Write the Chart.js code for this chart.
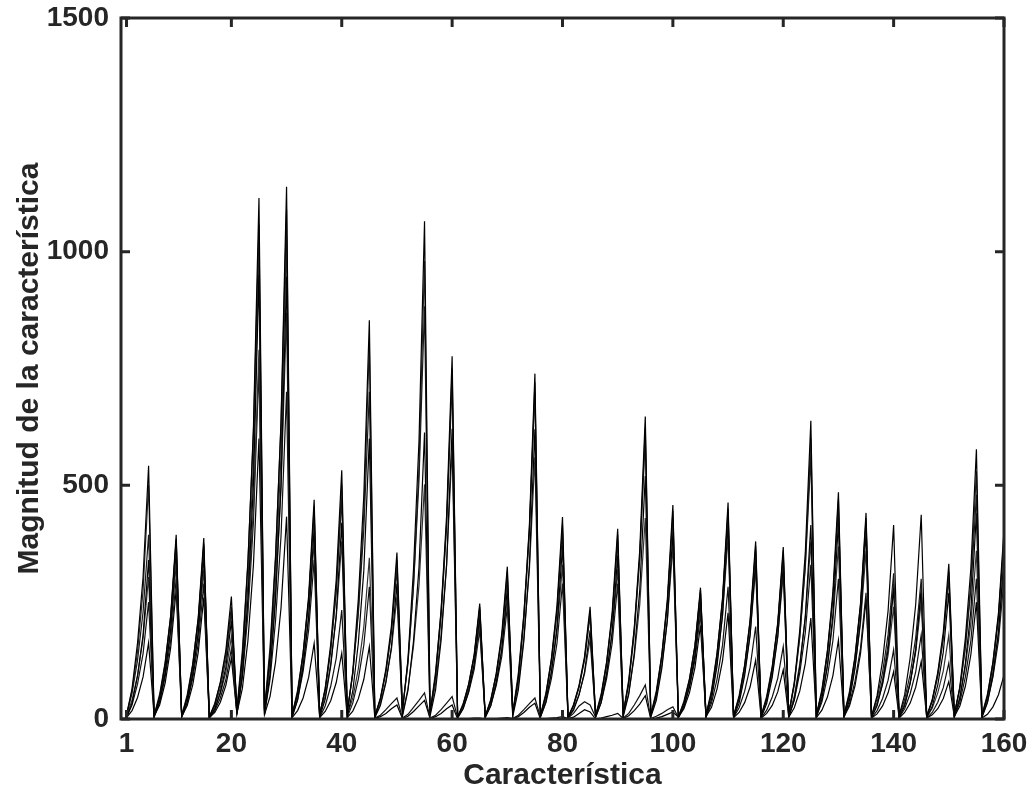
<!DOCTYPE html>
<html>
<head>
<meta charset="utf-8">
<script src="https://cdn.jsdelivr.net/npm/chart.js@4/dist/chart.umd.min.js"></script>
<style>
  html, body { margin: 0; padding: 0; background: #fff; }
  #wrap { width: 1028px; height: 800px; }
</style>
</head>
<body>
<div id="wrap"><canvas id="featChart" width="1028" height="800"></canvas></div>
<script>
// indice de la caracteristica (1..160)
const caracteristica = Array.from({ length: 160 }, (_, i) => i + 1);
const xTicks = [1, 20, 40, 60, 80, 100, 120, 140, 160];
const yTicks = [0, 500, 1000, 1500];

// magnitudes, una serie por muestra
const muestra1 = [
  8, 65, 163, 304, 542, 6, 47, 118, 221, 394, 6, 46, 116, 217, 387, 4, 31, 79, 147, 262,
  17, 134, 335, 624, 1115, 17, 137, 342, 638, 1139, 7, 56, 141, 263, 469, 8, 64, 160, 298, 532,
  13, 102, 256, 478, 853, 5, 43, 107, 199, 356, 16, 128, 320, 596, 1065, 12, 93, 233, 435, 776,
  4, 30, 74, 138, 247, 5, 39, 98, 183, 326, 11, 89, 222, 414, 739, 6, 52, 130, 242, 432,
  4, 29, 72, 134, 240, 6, 49, 122, 228, 407, 10, 78, 194, 362, 647, 7, 55, 137, 256, 458,
  4, 34, 84, 157, 281, 7, 56, 139, 259, 463, 6, 46, 114, 213, 380, 6, 44, 110, 206, 368,
  10, 77, 191, 357, 638, 7, 58, 146, 272, 485, 7, 53, 132, 247, 441, 6, 50, 125, 232, 415,
  7, 52, 131, 245, 437, 5, 40, 100, 186, 332, 9, 69, 173, 323, 577, 6, 49, 122, 227, 405
];
const muestra2 = [
  8, 55, 126, 229, 394, 8, 53, 122, 220, 380, 7, 52, 118, 215, 370, 5, 34, 77, 139, 240,
  21, 148, 338, 613, 1057, 22, 153, 349, 632, 1090, 9, 62, 141, 255, 440, 9, 66, 150, 273, 470,
  14, 98, 224, 406, 700, 6, 45, 102, 186, 320, 18, 124, 283, 512, 883, 14, 101, 230, 418, 720,
  5, 33, 75, 136, 235, 6, 42, 96, 174, 300, 14, 98, 224, 406, 700, 8, 56, 128, 232, 400,
  4, 31, 70, 128, 220, 8, 53, 122, 220, 380, 12, 84, 192, 348, 600, 9, 60, 138, 249, 430,
  5, 38, 86, 157, 270, 9, 62, 141, 255, 440, 7, 50, 115, 209, 360, 7, 49, 112, 203, 350,
  11, 78, 179, 325, 560, 9, 63, 144, 261, 450, 8, 59, 134, 244, 420, 6, 44, 100, 181, 312,
  6, 42, 96, 174, 300, 6, 42, 96, 174, 300, 10, 67, 154, 278, 480, 8, 53, 122, 220, 380
];
const muestra3 = [
  3, 34, 92, 180, 340, 4, 36, 97, 191, 360, 4, 35, 95, 186, 350, 2, 21, 57, 111, 210,
  10, 95, 257, 504, 950, 9, 95, 256, 502, 947, 4, 41, 111, 217, 410, 4, 42, 113, 223, 420,
  6, 60, 162, 318, 600, 3, 29, 78, 154, 290, 6, 61, 166, 325, 613, 6, 62, 168, 329, 621,
  2, 22, 59, 117, 220, 3, 28, 76, 148, 280, 6, 62, 167, 329, 620, 4, 37, 100, 196, 370,
  2, 19, 51, 101, 190, 4, 35, 95, 186, 350, 5, 52, 140, 276, 520, 4, 40, 108, 212, 400,
  3, 26, 69, 135, 255, 4, 42, 113, 223, 420, 3, 34, 92, 180, 340, 3, 33, 89, 175, 330,
  4, 42, 112, 220, 415, 4, 42, 113, 223, 420, 4, 40, 108, 212, 400, 3, 28, 76, 148, 280,
  3, 28, 76, 148, 280, 3, 27, 73, 143, 270, 4, 44, 119, 233, 440, 3, 35, 94, 184, 347
];
const muestra4 = [
  6, 40, 94, 173, 304, 7, 43, 102, 188, 330, 6, 42, 99, 182, 320, 4, 23, 55, 100, 176,
  16, 103, 245, 450, 790, 17, 113, 269, 495, 869, 8, 49, 118, 217, 380, 8, 49, 118, 217, 380,
  7, 45, 107, 197, 345, 5, 34, 81, 149, 262, 10, 65, 156, 286, 502, 12, 75, 180, 331, 580,
  4, 27, 64, 117, 205, 5, 34, 81, 148, 260, 11, 73, 174, 319, 560, 7, 43, 102, 188, 330,
  3, 22, 53, 97, 170, 6, 42, 99, 182, 320, 9, 56, 133, 245, 430, 7, 48, 115, 211, 370,
  5, 31, 74, 137, 240, 8, 51, 121, 222, 390, 6, 42, 99, 182, 320, 6, 40, 96, 177, 310,
  8, 49, 118, 217, 380, 7, 48, 114, 210, 369, 7, 47, 112, 205, 360, 5, 31, 74, 137, 240,
  5, 33, 78, 143, 251, 4, 23, 56, 103, 180, 7, 47, 112, 205, 360, 7, 42, 101, 186, 326
];
const muestra5 = [
  4, 30, 75, 140, 250, 5, 36, 90, 168, 300, 4, 35, 87, 162, 290, 2, 18, 45, 84, 150,
  11, 90, 226, 422, 754, 11, 84, 210, 392, 700, 5, 41, 102, 190, 340, 3, 28, 70, 130, 233,
  4, 34, 85, 158, 283, 2, 8, 20, 33, 45, 2, 10, 25, 40, 56, 2, 8, 20, 34, 48,
  3, 23, 57, 106, 190, 4, 29, 72, 134, 240, 1, 8, 20, 33, 45, 4, 35, 87, 162, 290,
  2, 12, 28, 37, 30, 4, 35, 87, 162, 290, 2, 12, 30, 50, 73, 1, 6, 12, 20, 26,
  3, 27, 68, 126, 225, 4, 34, 85, 158, 283, 3, 24, 59, 111, 198, 2, 19, 47, 87, 155,
  5, 40, 99, 185, 330, 5, 36, 90, 168, 300, 4, 32, 81, 151, 270, 2, 18, 44, 83, 148,
  3, 22, 54, 101, 180, 2, 14, 36, 67, 120, 5, 36, 90, 168, 300, 5, 36, 90, 168, 300
];
const muestra6 = [
  3, 18, 46, 90, 163, 6, 30, 77, 152, 276, 5, 29, 73, 143, 260, 3, 14, 36, 72, 130,
  12, 66, 168, 330, 600, 9, 48, 121, 238, 433, 3, 18, 45, 89, 162, 3, 16, 39, 78, 141,
  3, 17, 43, 85, 155, 1, 5, 12, 22, 30, 1, 6, 16, 28, 40, 1, 5, 12, 22, 30,
  0, 1, 1, 2, 2, 0, 1, 1, 2, 3, 1, 5, 14, 25, 34, 0, 1, 2, 3, 5,
  1, 4, 12, 20, 15, 0, 2, 5, 8, 12, 1, 7, 18, 32, 50, 0, 2, 5, 10, 15,
  4, 22, 56, 110, 200, 5, 25, 64, 125, 227, 3, 14, 35, 69, 126, 2, 12, 29, 58, 105,
  4, 24, 60, 119, 216, 3, 19, 47, 93, 169, 5, 28, 71, 140, 255, 2, 11, 28, 56, 101,
  2, 14, 34, 68, 123, 2, 9, 22, 44, 80, 5, 28, 70, 138, 250, 2, 10, 26, 52, 94
];
const muestra7 = [
  10, 60, 145, 275, 500, 8, 46, 112, 212, 385, 8, 45, 109, 206, 375, 5, 28, 67, 127, 230,
  20, 120, 290, 550, 1000, 21, 124, 299, 567, 1030, 9, 55, 132, 250, 455, 10, 60, 145, 275, 500,
  16, 96, 232, 440, 800, 7, 41, 99, 187, 340, 20, 118, 284, 539, 980, 15, 90, 218, 413, 750,
  5, 29, 70, 132, 240, 6, 38, 91, 173, 315, 14, 86, 209, 396, 720, 8, 50, 120, 228, 415,
  5, 28, 67, 128, 232, 8, 47, 115, 217, 395, 13, 75, 181, 344, 625, 9, 53, 129, 245, 445,
  6, 33, 80, 152, 276, 9, 54, 131, 248, 450, 7, 44, 107, 204, 370, 7, 43, 104, 198, 360,
  12, 72, 174, 330, 600, 9, 56, 136, 259, 470, 9, 52, 125, 237, 430, 6, 35, 84, 160, 290,
  5, 32, 78, 149, 270, 6, 38, 91, 173, 315, 11, 64, 154, 292, 530, 8, 47, 113, 215, 390
];

const muestras = [muestra1, muestra2, muestra3, muestra4, muestra5, muestra6, muestra7];
const colores = ['#000000', '#1a1a1a', '#000000', '#333333', '#111111', '#000000', '#2a2a2a'];

const axisColor = '#262626';
const fontFam = '"Liberation Sans", Arial, Helvetica, sans-serif';

// marco tipo matlab con las marcas hacia adentro
const marcoPlugin = {
  id: 'marco',
  afterDraw(chart) {
    const { ctx, chartArea: a, scales } = chart;
    ctx.save();
    ctx.strokeStyle = axisColor;
    ctx.lineWidth = 3;
    const tl = 9;
    ctx.beginPath();
    xTicks.forEach(v => {
      const px = scales.x.getPixelForValue(v);
      ctx.moveTo(px, a.bottom); ctx.lineTo(px, a.bottom - tl);
      ctx.moveTo(px, a.top); ctx.lineTo(px, a.top + tl);
    });
    yTicks.forEach(v => {
      const py = scales.y.getPixelForValue(v);
      ctx.moveTo(a.left, py); ctx.lineTo(a.left + tl, py);
      ctx.moveTo(a.right, py); ctx.lineTo(a.right - tl, py);
    });
    ctx.stroke();
    ctx.strokeRect(a.left, a.top, a.right - a.left, a.bottom - a.top);
    ctx.restore();
  }
};

const ctx = document.getElementById('featChart').getContext('2d');

new Chart(ctx, {
  type: 'line',
  data: {
    datasets: muestras.map((serie, k) => ({
      label: 'Muestra ' + (k + 1),
      data: serie.map((v, i) => ({ x: caracteristica[i], y: v })),
      borderColor: colores[k],
      borderWidth: 1.2,
      pointRadius: 0,
      tension: 0,
      fill: false
    }))
  },
  options: {
    responsive: false,
    animation: false,
    layout: { padding: { top: 18, right: 24, left: 0, bottom: 0 } },
    plugins: {
      legend: { display: false },
      tooltip: { enabled: false }
    },
    scales: {
      x: {
        type: 'linear',
        min: 0,
        max: 160,
        grid: { display: false, drawTicks: false },
        border: { display: false },
        afterBuildTicks: axis => { axis.ticks = xTicks.map(v => ({ value: v })); },
        afterFit: s => {
          s.height = 81;
          s.paddingLeft = 0;
          s.paddingRight = 0;
        },
        ticks: {
          color: axisColor,
          padding: 8,
          maxRotation: 0,
          autoSkip: false,
          callback: v => String(v),
          font: { family: fontFam, size: 28, weight: 'bold' }
        },
        title: {
          display: true,
          text: 'Característica',
          color: axisColor,
          padding: { top: 0, bottom: 6 },
          font: { family: fontFam, size: 30, weight: 'bold' }
        }
      },
      y: {
        min: 0,
        max: 1500,
        grid: { display: false, drawTicks: false },
        border: { display: false },
        afterBuildTicks: axis => { axis.ticks = yTicks.map(v => ({ value: v })); },
        afterFit: s => {
          s.width = 121;
          s.paddingTop = 0;
          s.paddingBottom = 0;
        },
        ticks: {
          color: axisColor,
          padding: 12,
          callback: v => String(v),
          font: { family: fontFam, size: 28, weight: 'bold' }
        },
        title: {
          display: true,
          text: 'Magnitud de la característica',
          color: axisColor,
          padding: { top: 12, bottom: 0 },
          font: { family: fontFam, size: 30, weight: 'bold' }
        }
      }
    }
  },
  plugins: [marcoPlugin]
});
</script>
</body>
</html>
